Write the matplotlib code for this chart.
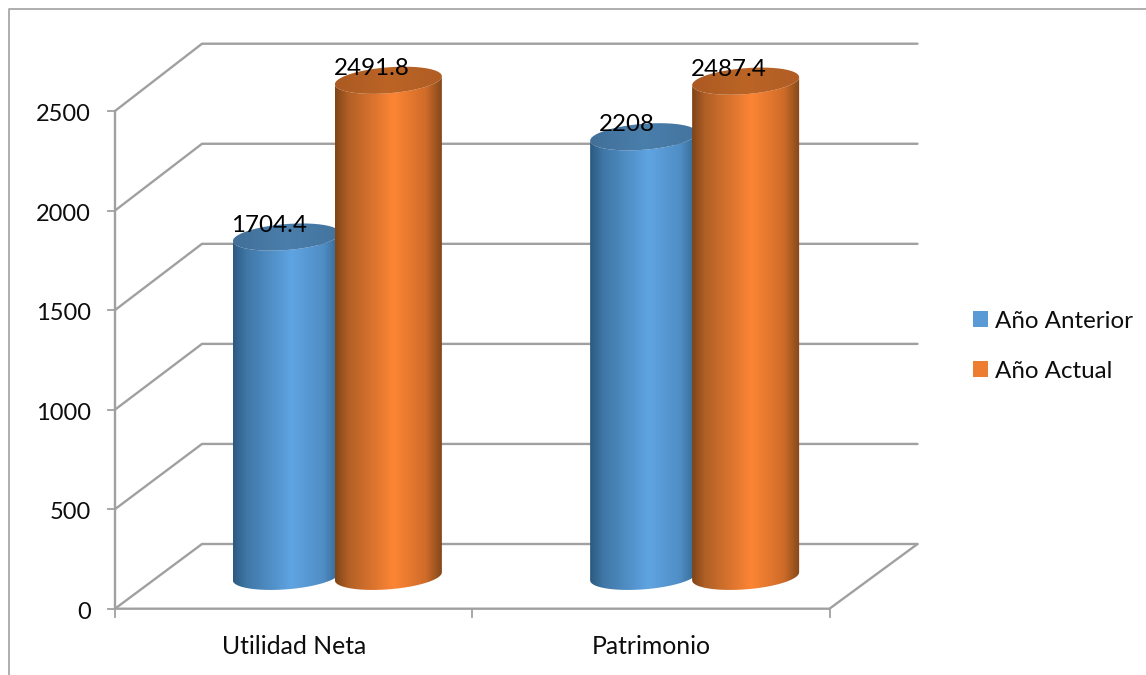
import numpy as np
import matplotlib
matplotlib.use("Agg")
import matplotlib.pyplot as plt
from matplotlib.colors import LinearSegmentedColormap
from matplotlib.patches import Patch, PathPatch
from matplotlib.path import Path

categories = ["Utilidad Neta", "Patrimonio"]
series_names = ["Año Anterior", "Año Actual"]
anterior = [1704.4, 2208]
actual = [2491.8, 2487.4]
value_ticks = [0, 500, 1000, 1500, 2000, 2500]

W, H = 1146, 675
FRONT_L, FRONT_R, FRONT_B, FRONT_T = 115.0, 829.5, 608.7, 111.0
GRID = "#a0a0a0"
FONT = "Lato"
TEXT = "#0d0d0d"

fig = plt.figure(figsize=(W / 100, H / 100), dpi=100, facecolor="white")
ax = fig.add_axes([FRONT_L / W, 1 - FRONT_B / H, (FRONT_R - FRONT_L) / W, (FRONT_B - FRONT_T) / H])
ax.set_xlim(0, len(categories))
ax.set_ylim(0, value_ticks[-1])
ax.axis("off")

# Screen-space sizes converted to axis units for the oblique projection
XU = len(categories) / (FRONT_R - FRONT_L)
YU = value_ticks[-1] / (FRONT_B - FRONT_T)
DX_L, DX_R, DY = 87 * XU, 88 * XU, 64.7 * YU
BACK_SCALE = 1.0052
A, B, TILT = 53.5 * XU, 13 * YU, 4 * YU
OFFSET = 51 * XU

# Chart frame, cut by the edge of the figure
fig.add_artist(plt.Line2D([9 / W, 9 / W, 1], [0, 1 - 8.7 / H, 1 - 8.7 / H], color="#a8a8a8", lw=1.3))

line = dict(color=GRID, lw=1.7, clip_on=False, solid_capstyle="round", zorder=1)
for v in value_ticks:
    back = DY + v * BACK_SCALE
    ax.plot([0, DX_L, 2 + DX_R], [v, back, back], **line)
    ax.plot([-7 * XU, 0], [v, v], color=GRID, lw=1.3, clip_on=False, zorder=1)
ax.plot([0, 0], [0, value_ticks[-1]], **line)
ax.plot([0, 2, 2 + DX_R], [0, 0, DY], **line)
for c in range(len(categories) + 1):
    ax.plot([c, c], [0, -8 * YU], color=GRID, lw=1.3, clip_on=False, zorder=1)

for v in value_ticks:
    ax.text(-24 * XU, v - 1.5 * YU, str(v), ha="right", va="center_baseline", family=FONT, fontsize=17, color=TEXT)
for c, name in enumerate(categories):
    ax.text(c + 0.5, -35.5 * YU, name, ha="center", va="center_baseline", family=FONT, fontsize=17.8, color=TEXT)


def ellipse(cx, cy, t):
    return cx + A * np.cos(t), cy + B * np.sin(t) + TILT * np.cos(t)


def shaded(path_xy, extent, cmap, z):
    grad = np.linspace(0, 1, 256).reshape(1, -1)
    im = ax.imshow(grad, cmap=cmap, extent=extent, aspect="auto", zorder=z, interpolation="bilinear")
    im.set_clip_box(fig.bbox)
    im.set_clip_path(PathPatch(Path(path_xy), transform=ax.transData))


def cylinder(cx, value, body_cmap, cap_cmap, z):
    y0 = DY / 2
    y1 = y0 + value
    ang = np.linspace(np.pi, 2 * np.pi, 80)
    bx, by = ellipse(cx, y0, ang)
    tx, ty = ellipse(cx, y1, ang[::-1])
    extent = [cx - A, cx + A, y0 - B - TILT, y1 + B + TILT]
    shaded(np.vstack([np.c_[bx, by], np.c_[tx, ty], [[bx[0], by[0]]]]), extent, body_cmap, z)
    ex, ey = ellipse(cx, y1, np.linspace(0, 2 * np.pi, 160))
    shaded(np.c_[ex, ey], extent, cap_cmap, z + 0.1)


blue = LinearSegmentedColormap.from_list("blue", [(0, "#2b5a80"), (0.12, "#3f76a5"), (0.55, "#5fa4e2"),
                                                  (0.85, "#4f8dc4"), (1, "#34658f")])
orange = LinearSegmentedColormap.from_list("orange", [(0, "#7f4418"), (0.12, "#b05f26"), (0.55, "#fd8535"),
                                                      (0.85, "#cf6c29"), (1, "#83481a")])
blue_cap = LinearSegmentedColormap.from_list("bc", ["#416f98", "#4a7eab", "#44749f"])
orange_cap = LinearSegmentedColormap.from_list("oc", ["#ab5a22", "#bb6426", "#b05d24"])

for i, (a, b) in enumerate(zip(anterior, actual)):
    center = i + 0.5 + (DX_L + DX_R) / 4
    cylinder(center - OFFSET, a, blue, blue_cap, 3 + i * 2)
    cylinder(center + OFFSET, b, orange, orange_cap, 4 + i * 2)
    for cx, v in ((center - OFFSET, a), (center + OFFSET, b)):
        ax.text(cx - 17 * XU, DY / 2 + v + 14 * YU, f"{v:g}", ha="center", va="center_baseline", family=FONT,
                fontsize=17.4, color="#000000", zorder=10)

ax.set_xlim(0, len(categories))
ax.set_ylim(0, value_ticks[-1])

handles = [Patch(facecolor="#5b9bd5", label=series_names[0]), Patch(facecolor="#ed7d31", label=series_names[1])]
fig.legend(handles=handles, loc="center left", bbox_to_anchor=(966 / W, 1 - 346 / H), frameon=False,
           prop=dict(family=FONT, size=17.4), labelcolor=TEXT, handlelength=0.62, handleheight=0.62,
           handletextpad=0.3, labelspacing=1.2, borderpad=0.3, borderaxespad=0)

fig.savefig("out.png", dpi=100)
